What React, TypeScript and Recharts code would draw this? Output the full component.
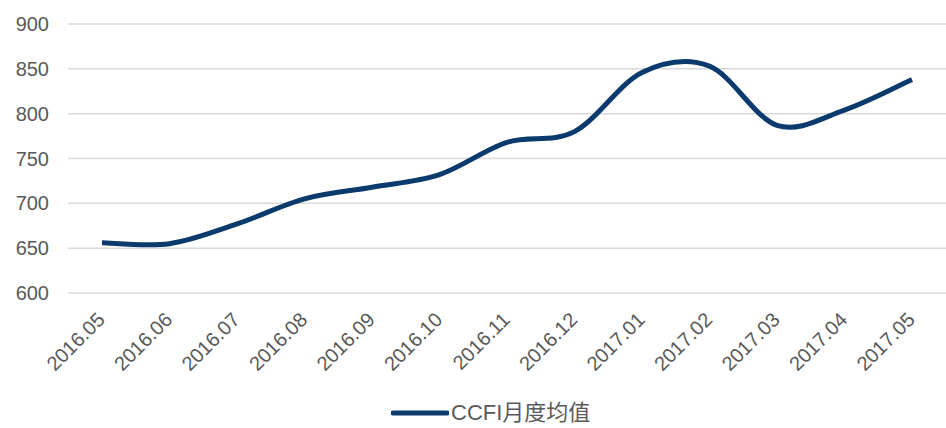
import React from "react";
import { LineChart, Line, XAxis, YAxis, CartesianGrid, Legend } from "recharts";

const categories = [
  "2016.05", "2016.06", "2016.07", "2016.08", "2016.09", "2016.10", "2016.11",
  "2016.12", "2017.01", "2017.02", "2017.03", "2017.04", "2017.05",
];
const ccfiValues = [656, 655, 677, 705, 718, 732, 768, 780, 846, 853, 787, 804, 838];
const yTicks = [600, 650, 700, 750, 800, 850, 900];
const seriesName = "CCFI月度均值";

const data = categories.map((c, i) => ({ month: c, value: ccfiValues[i] }));

const LINE_COLOR = "#0b3a6c";
const TEXT_COLOR = "#595959";
const FONT = "'Liberation Sans', Arial, 'Noto Sans CJK SC', sans-serif";

// Excel-like smooth curve (Catmull-Rom through points, converted to cubic Béziers)
function smoothCurve(context: any) {
  let pts: [number, number][] = [];
  return {
    areaStart() {},
    areaEnd() {},
    lineStart() {
      pts = [];
    },
    point(x: number, y: number) {
      pts.push([+x, +y]);
    },
    lineEnd() {
      const n = pts.length;
      if (!n) return;
      context.moveTo(pts[0][0], pts[0][1]);
      for (let i = 0; i < n - 1; i++) {
        const p0 = pts[i - 1] || pts[i];
        const p1 = pts[i];
        const p2 = pts[i + 1];
        const p3 = pts[i + 2] || pts[i + 1];
        const c1x = p1[0] + (p2[0] - p0[0]) / 6;
        const c1y = p1[1] + (p2[1] - p0[1]) / 6;
        const c2x = p2[0] - (p3[0] - p1[0]) / 6;
        const c2y = p2[1] - (p3[1] - p1[1]) / 6;
        context.bezierCurveTo(c1x, c1y, c2x, c2y, p2[0], p2[1]);
      }
    },
  };
}

const XTick = (props: any) => {
  const { x, y, payload } = props;
  const ax = x + 4;
  const ay = y + 28;
  return (
    <text
      x={ax}
      y={ay}
      transform={`rotate(-45, ${ax}, ${ay})`}
      textAnchor="end"
      fill={TEXT_COLOR}
      fontSize={20}
      fontFamily={FONT}
    >
      {payload.value}
    </text>
  );
};

const LegendContent = () => (
  <div
    style={{
      display: "flex",
      justifyContent: "flex-start",
      alignItems: "center",
      height: 30,
      lineHeight: "30px",
      paddingLeft: 391,
      fontFamily: FONT,
      fontSize: 22,
      color: TEXT_COLOR,
    }}
  >
    <svg width={58} height={10} style={{ marginRight: 2 }}>
      <line x1={2} y1={5} x2={56} y2={5} stroke={LINE_COLOR} strokeWidth={5} strokeLinecap="round" />
    </svg>
    <span>{seriesName}</span>
  </div>
);

export default function App() {
  return (
    <div style={{ width: 946, height: 428 }}>
      <style>{"body{margin:0}"}</style>
      <LineChart
        width={946}
        height={428}
        data={data}
        margin={{ top: 24, right: 0, left: 0, bottom: 0 }}
      >
        <CartesianGrid vertical={false} stroke="#d9d9d9" strokeWidth={1.5} />
        <XAxis
          dataKey="month"
          axisLine={false}
          tickLine={false}
          tickSize={0}
          tickMargin={0}
          interval={0}
          height={105}
          padding={{ left: 34, right: 34 }}
          tick={<XTick />}
        />
        <YAxis
          domain={[600, 900]}
          ticks={yTicks}
          axisLine={false}
          tickLine={false}
          tickSize={0}
          tickMargin={19}
          width={68}
          tick={{ fill: TEXT_COLOR, fontSize: 20, fontFamily: FONT }}
        />
        <Legend
          verticalAlign="bottom"
          height={30}
          wrapperStyle={{ height: 30, left: 0, width: 946 }}
          content={<LegendContent />}
        />
        <Line
          type={smoothCurve as any}
          dataKey="value"
          name={seriesName}
          stroke={LINE_COLOR}
          strokeWidth={5}
          dot={false}
          activeDot={false}
          isAnimationActive={false}
        />
      </LineChart>
    </div>
  );
}
